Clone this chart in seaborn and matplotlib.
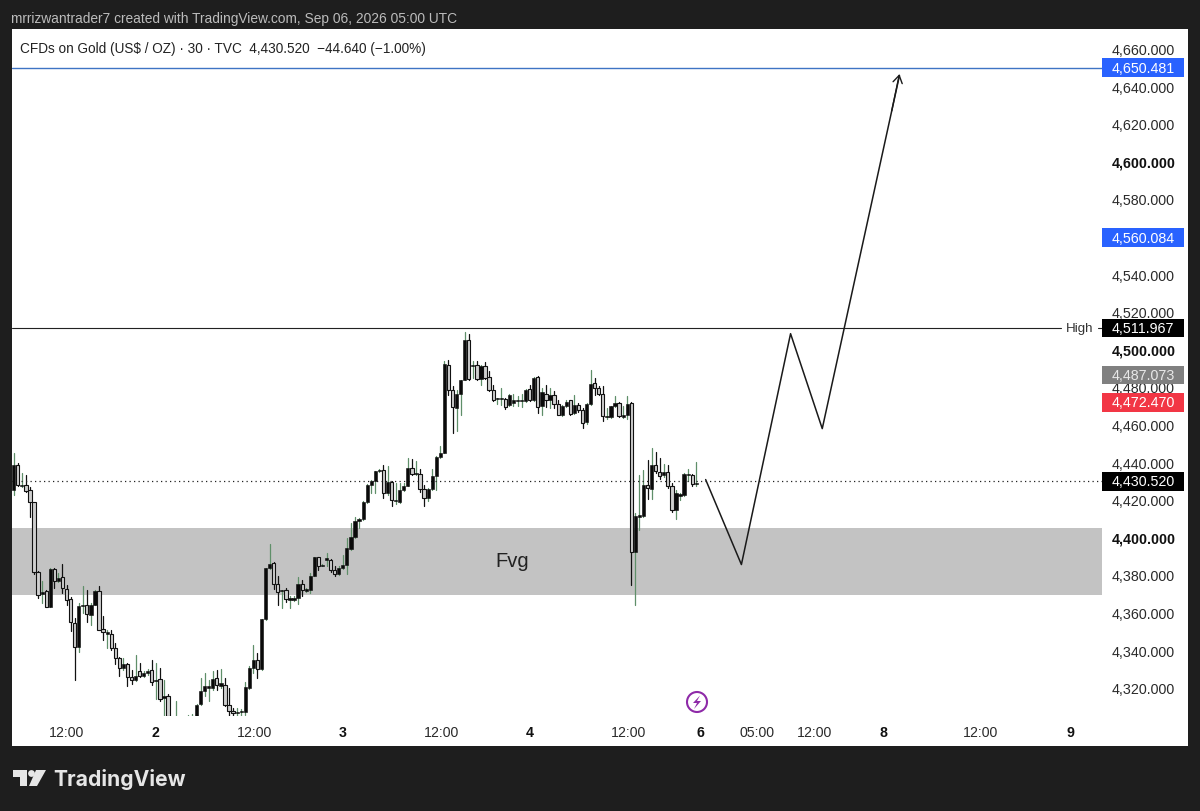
import numpy as np
import pandas as pd
import seaborn as sns
import matplotlib
matplotlib.use("Agg")
import matplotlib.pyplot as plt
from matplotlib.patches import Rectangle, Circle, Polygon
from matplotlib.transforms import Affine2D, ScaledTranslation, blended_transform_factory

sns.set_theme(style="white")
plt.rcParams["font.family"] = ["Liberation Sans", "DejaVu Sans"]

# ---- candle values (30 minute bars) ----
highs = [4445.6,4440,4435,4434,4427.5,4419.3,4383,4377.3,4372.9,4384.2,4384.4,4381.7,4386.3,4375.5,4369,4357.8,4365.8,4375,4372.5,4365.8,4372.5,4374.6,4358.7,4351.6,4351.2,4344.5,4337,4336.5,4333.9,4330,4338.3,4333.9,4329.4,4330.7,4335.3,4333.9,4331.2,4325,4317.6,
 4304,4313.5,4303,4304,4306,4306.5,
 4312.2,4325.9,4328.5,4325,4329.8,4330.3,4330.7,4325.9,4320.6,4309.9,4309.9,4309.4,4323.6,4332.1,4343.4,4339.2,4357.4,4384.4,4397.3,4387.4,4380.3,4372.9,4373.8,4369.3,4369.3,4379.6,4378.2,4373.8,4381.7,4390.2,4390.2,4386.7,4392.4,4389.2,4385.3,4385.3,4391.5,4400.4,
 4408.3,4411.5,4411,4419.9,4429.1,4431.4,4436.2,4437,4439,4438.5,4430.5,4429.6,4429.6,4429.6,4442.9,4442.4,4441.1,4437,4428.7,4426.8,4437,4443.8,4449.5,4494.3,4494.9,4481.4,4479.3,4484.6,4509.7,4509,4494.7,4494.4,4492.6,4493.8,4489,4481.9,4474.8,4480.1,4474.8,4476.9,4477.1,4476,4477.1,4479.6,4481.9,4486,4486.3,4480.1,4481.9,4480.1,4478.4,4473.9,4471.3,4473.9,4473.9,4476.6,4472.2,4469.5,4472.2,4489.9,4485.5,4481.4,4481.4,4469.5,4470.7,4476,4472.5,4470.4,4475.7,4472.5,4413.7,4434,4436.7,4441.7,4448.2,4445.9,4442.7,4439.9,4439.4,4429.6,4426,4424.3,4434.9,4437,4434.6,4440.6]
body_tops = [4439.4,4439.4,4428.7,4428.7,4425.7,4419.3,4382.4,4371.8,4372.3,4383.9,4383.9,4379.3,4379.6,4373.4,4367.9,4355.1,4364,4364.9,4364.9,4364.9,4372,4372,4352,4350.4,4349.3,4341.8,4336.5,4333.3,4333.3,4326.4,4327.1,4329.4,4328.5,4329.6,4330.3,4325,4325.4,4316.1,4316.5,
 4302,4302,4300,4300,4303,4303,
 4311.7,4318.8,4321.5,4321.8,4325.4,4325.9,4323.2,4322,4311.7,4308.2,4308.0,4308.4,4320.9,4331.4,4335.6,4335.6,4357.3,4384.4,4386.7,4387,4376,4372.5,4372.5,4368.6,4368.6,4376,4376,4373.2,4380.3,4390.2,4390.2,4386,4389.9,4388.8,4383.5,4384.4,4386.2,4394.9,
 4400.9,4409.6,4410.5,4419.3,4428.7,4430.7,4435.8,4436.7,4436.5,4430.3,4430.1,4420.6,4425.7,4428.2,4437.6,4437.6,4434.9,4434.4,4426.6,4426.4,4433.5,4443.4,4445.6,4492.7,4492.5,4479.3,4476.8,4484.4,4505.8,4505.8,4492.4,4492.4,4492,4492,4485.8,4479.3,4474.8,4474.8,4474.5,4476.6,4473.9,4473.9,4473.9,4479.3,4479.6,4485.5,4486,4478,4477.1,4476.4,4476.4,4471.6,4470.7,4472.9,4473.9,4471.1,4471.1,4468.3,4471.8,4482.4,4482.8,4480.1,4477.1,4465.4,4470.4,4472.2,4472.2,4465.6,4471.8,4472.3,4411.9,4412.6,4428.4,4428.4,4439.2,4439.2,4435.6,4435.3,4435.3,4427.8,4424.3,4423.6,4434.6,4434.6,4434,4429.6]
body_bots = [4426,4428.7,4428,4425.2,4419.3,4382,4370,4370.4,4363.8,4363.8,4377.3,4377.5,4373.8,4367.6,4355.5,4342.4,4342.4,4364.4,4360,4359.6,4364.5,4351.6,4350.4,4349.3,4341.8,4336.5,4331.2,4331,4326.4,4324.6,4325,4327.1,4327.1,4328.5,4323.6,4324.3,4314.7,4315.2,4305.5,
 4296,4298,4296,4297,4299,4300,
 4305.5,4312.2,4318.8,4320.6,4320.6,4322.3,4321.8,4311.7,4308.2,4307.3,4307.4,4307.8,4307.6,4320.7,4331.2,4330.7,4330.5,4357.4,4384.2,4376,4371.8,4372.2,4367.9,4367.6,4367.4,4368.6,4372.5,4372.2,4372.9,4380.3,4385.3,4385.6,4388.8,4383.2,4381.4,4381,4384.4,4386.2,
 4394.5,4400.7,4409.6,4410.5,4419.3,4428.7,4430.7,4436,4424.1,4424.3,4420.7,4419.9,4419.7,4425.7,4428,4434.6,4434.4,4426.6,4421.6,4421.6,4426.4,4433.3,4443.3,4445.7,4478.9,4469.9,4469.5,4476.8,4484.4,4485.1,4491.8,4485.1,4485.1,4485.5,4479.3,4473.9,4474.5,4474.3,4470,4470.9,4472.2,4473.4,4473.4,4473.4,4473.6,4473.9,4470,4470.4,4473.6,4473.9,4471.8,4466,4466,4470.7,4466.5,4466.9,4468.3,4461.5,4461.9,4471.8,4480.1,4477.1,4465.4,4464.5,4464.7,4470.4,4465.1,4464.5,4466,4393.1,4393.1,4411.5,4412.2,4427,4426.6,4435.8,4433.2,4433.7,4427.8,4415.4,4415.4,4422.9,4423,4433.9,4429.3,4429.3]
lows = [4423.4,4427.8,4427.5,4424.6,4411.5,4381.4,4368.3,4365.8,4363.5,4363.8,4373.8,4376.8,4371,4364.9,4350.7,4325,4339.7,4360.5,4355.7,4353.9,4364.5,4351.6,4346.3,4341.8,4341,4333.5,4327.1,4330.3,4321.8,4322.9,4324.3,4326.4,4326.4,4327.7,4322.3,4314.7,4313.5,4305.5,4305.5,
 4294,4296,4294,4295,4297,4298,
 4304,4311.7,4316.1,4313.5,4319.3,4319.3,4320.6,4311.2,4305.5,4305.9,4305.9,4305.5,4306.4,4320,4328.5,4326,4330.3,4356.9,4383.9,4373.2,4364.5,4363.1,4366.1,4363.1,4367,4365.4,4369.3,4371.5,4371,4380,4383.2,4385.3,4385.3,4382.4,4380.3,4380.7,4383.9,4381.4,
 4393.8,4400.4,4405.7,4410.1,4419,4424.3,4424.3,4435.6,4421.6,4423.4,4417.6,4418.6,4419,4425.2,4427.8,4434,4434,4424.8,4417.6,4419.9,4425.7,4426,4442.9,4445.6,4476.6,4456.2,4457.1,4466,4484.2,4484.6,4485.5,4484.6,4481.9,4484.9,4478.7,4473.4,4471.8,4471.3,4469,4470.4,4470.7,4470.4,4470,4472.5,4473,4473.4,4466.8,4466,4470,4469.5,4469.5,4465.6,4465.1,4470,4466,4466.3,4467.2,4458.9,4461.2,4471.3,4476.6,4476.6,4462.4,4463.7,4464.2,4470,4464.5,4464,4463.7,4375.5,4364.9,4404.8,4411.5,4421.3,4421.3,4434.9,4431.7,4432.8,4427.1,4414,4410.5,4420.7,4422.9,4430.5,4428.2,4427.8]
# b = filled rising bar, w = hollow falling bar, read bar by bar
kinds = ("bwbwwwwbwb" "wbwwwwbbwb" "bwwbwwwbww" "bwbbwbwbw"
         "wbbbbb"
         "bbbbbwbwww" "bbbbbwbbbw" "wbwbbbwbbb" "wbbwwbbb"
         "bbbbbbbbwb" "wbbbbwbwwb" "bbbbwwbbbw" "bwbwwwbbwb" "bbbbwbwbwb" "wwbbwbwwbb"
         "wwwbbbwbbw" "bbbwbwwbww" "bbbbwb")
visible_floor = 4305.5

prices_ticks = list(range(4320, 4680, 20))
bold_prices = [4400, 4500, 4600]
time_positions = [13.1, 34.8, 59.2, 80.9, 105.2, 126.9, 151.3, 169, 183, 197, 214, 238, 260]
time_labels = ["12:00", "2", "12:00", "3", "12:00", "4", "12:00", "6", "05:00", "12:00", "8", "12:00", "9"]
bold_times = ["2", "3", "4", "6", "8", "9"]

tag_prices = [4650.481, 4560.084, 4511.967, 4487.073, 4472.470, 4430.520]
tag_labels = ["4,650.481", "4,560.084", "4,511.967", "4,487.073", "4,472.470", "4,430.520"]
tag_colors = ["#2962ff", "#2962ff", "#000000", "#808080", "#f23645", "#000000"]

fvg_low, fvg_high = 4370.2, 4405.8
high_level = 4511.967
target_level = 4650.481
last_price = 4430.520
path_bars = [170.3, 179.1, 191.2, 199.0, 218.0]
path_prices = [4431.4, 4386.2, 4509.0, 4458.5, 4646.3]

assert len(highs) == len(body_tops) == len(body_bots) == len(lows) == len(kinds)

# ---- figure ----
W, H = 1200, 812
fig = plt.figure(figsize=(W / 100, H / 100), dpi=100, facecolor="#1e1e1e")
L, R, T, B = 11.5, 1188, 29.5, 746.5
ax = fig.add_axes([L / W, 1 - B / H, (R - L) / W, (B - T) / H], facecolor="white")
ppb = (696.3 - 13.7) / (len(highs) - 1)
Y0 = 539.6
ax.set_xlim((L - 13.7) / ppb, (R - 13.7) / ppb)
ax.set_ylim(4400 - (B - Y0) / 1.88, 4400 + (Y0 - T) / 1.88)

highs_a, tops_a, bots_a, lows_a = map(np.array, (highs, body_tops, body_bots, lows))
idx = np.arange(len(highs))
is_up = np.array([k == "b" for k in kinds])

xfrac = (1102 - L) / (R - L)
ax.axhspan(fvg_low, fvg_high, xmin=0, xmax=xfrac, color="#c3c3c3", lw=0, zorder=1)

wicks = pd.DataFrame({
    "bar": np.r_[idx, idx],
    "price": np.r_[highs_a, lows_a],
    "dir": np.where(np.r_[is_up, is_up], "up", "down"),
})
n_before = len(ax.lines)
sns.lineplot(data=wicks, x="bar", y="price", hue="dir", units="bar", estimator=None,
             palette={"up": "#5f8f69", "down": "#111111"}, lw=0.9, legend=False, ax=ax, zorder=2)
wick_lines = ax.lines[n_before:]
up_bars = ax.bar(idx[is_up], (tops_a - bots_a)[is_up].clip(0.5), bottom=bots_a[is_up], width=0.8,
                 color="#0a0a0a", edgecolor="#0a0a0a", lw=0.4, zorder=3)
down_bars = ax.bar(idx[~is_up], (tops_a - bots_a)[~is_up].clip(0.5), bottom=bots_a[~is_up], width=0.8,
                   color="#cfcfcf", edgecolor="#111111", lw=0.8, zorder=3)

# The chart's lower edge hides candles under this price
xl = ax.get_xlim()
yl = ax.get_ylim()
visible = Rectangle((xl[0], visible_floor), xl[1] - xl[0], yl[1] - visible_floor, transform=ax.transData)
for artist in list(wick_lines) + list(up_bars) + list(down_bars):
    artist.set_clip_path(visible)

ax.axhline(target_level, xmax=xfrac, color="#3f74c4", lw=1.0, zorder=2)
ax.axhline(high_level, xmax=(1061 - L) / (R - L), color="#222222", lw=0.8, zorder=2)
ax.axhline(high_level, xmin=(1098 - L) / (R - L), xmax=xfrac, color="#222222", lw=0.8, zorder=2)
ax.axhline(last_price, xmax=xfrac, color="#222222", lw=0.9, ls=(0, (1, 2.6)), zorder=2)

sns.lineplot(x=path_bars, y=path_prices, sort=False, estimator=None, color="#1a1a1a", lw=1.1, ax=ax, zorder=5)
tail_x = path_bars[-1] + 0.1 * (path_bars[-2] - path_bars[-1])
tail_y = path_prices[-1] + 0.1 * (path_prices[-2] - path_prices[-1])
ax.annotate("", xy=(path_bars[-1], path_prices[-1] + 0.8), xytext=(tail_x, tail_y),
            arrowprops=dict(arrowstyle="->,head_length=0.45,head_width=0.28", color="#1a1a1a", lw=1.0,
                            shrinkA=0, shrinkB=0), zorder=5)

ax.text((512 - 13.7) / ppb, 4400 + (Y0 - 562) / 1.88, "Fvg", fontsize=14.5, color="#222222",
        ha="center", va="center", zorder=5)
ax.text((1080 - 13.7) / ppb, high_level, "High", fontsize=9.6, color="#333333",
        ha="center", va="center", zorder=5)

# price scale inside the panel
ax.set_yticks(prices_ticks)
ax.yaxis.tick_right()
ax.set_yticklabels([f"{p:,.3f}" for p in prices_ticks])
ax.tick_params(axis="y", length=0, pad=(1112 - R) * 0.72, labelsize=10.3, labelcolor="#2a2a2a")
nudge = ScaledTranslation(0, 1.3 / 100, fig.dpi_scale_trans)
for lab, p in zip(ax.get_yticklabels(), prices_ticks):
    lab.set_ha("left")
    lab.set_transform(lab.get_transform() + nudge)
    if p in bold_prices:
        lab.set_fontweight("bold")
        lab.set_color("#111111")

ax.set_xticks(time_positions)
ax.set_xticklabels(time_labels)
ax.tick_params(axis="x", length=0, pad=-20 * 0.72, labelsize=10.2, labelcolor="#2a2a2a")
for lab, t in zip(ax.get_xticklabels(), time_labels):
    if t in bold_times:
        lab.set_fontweight("bold")
        lab.set_color("#111111")
ax.set_xlabel("")
ax.set_ylabel("")
for s in ax.spines.values():
    s.set_visible(False)

# price tags
btrans = blended_transform_factory(ax.transAxes, ax.transData)
wtag = (1183.5 - 1102) / (R - L)
for p, lbl, c in zip(tag_prices, tag_labels, tag_colors):
    ax.add_patch(Rectangle((xfrac, p - 9.3 / 1.88), wtag, 18.6 / 1.88, transform=btrans, facecolor=c,
                           edgecolor="none", zorder=6))
    ax.text((1112 - L) / (R - L), p, lbl, transform=btrans, fontsize=10.3,
            color="white" if c != "#808080" else "#e8e8e8", ha="left", va="center", zorder=7)

# page header and footer
fig.text(11 / W, 1 - 19 / H, "mrrizwantrader7 created with TradingView.com, Sep 06, 2026 05:00 UTC",
         fontsize=9.95, color="#bcbcbc", ha="left", va="center")
ax.text((20 - L) / (R - L), 1 - (49 - T) / (B - T),
        "CFDs on Gold (US$ / OZ) \u00b7 30 \u00b7 TVC  4,430.520  \u221244.640 (\u22121.00%)",
        transform=ax.transAxes, fontsize=9.85, color="#222222", ha="left", va="center", zorder=7)
fig.text(53 / W, 1 - 780 / H, "TradingView", fontsize=15.2, fontweight="bold", color="#e6e6e6",
         family="Inter", ha="left", va="center")

px = Affine2D().scale(1, -1).translate(0, H)
logo = "#e6e6e6"
for pts in ([(13, 771), (27, 771), (27, 787), (20, 787), (20, 778), (13, 778)],
            [(36, 771), (46, 771), (37, 787), (29, 787)]):
    fig.add_artist(Polygon(pts, closed=True, transform=px, facecolor=logo, edgecolor="none"))
fig.add_artist(Circle((31.5, 774.5), 3.4, transform=px, facecolor=logo, edgecolor="none"))

fig.add_artist(Circle((697, 703), 10, transform=px, facecolor="white", edgecolor="#8e2aa8", lw=1.5, zorder=8))
fig.add_artist(Polygon([(700, 696.5), (693, 704), (697, 704), (694, 710), (701, 702), (697, 702)], closed=True,
                       transform=px, facecolor="#8e2aa8", edgecolor="none", zorder=9))

fig.savefig("out.png", dpi=100, facecolor=fig.get_facecolor())
